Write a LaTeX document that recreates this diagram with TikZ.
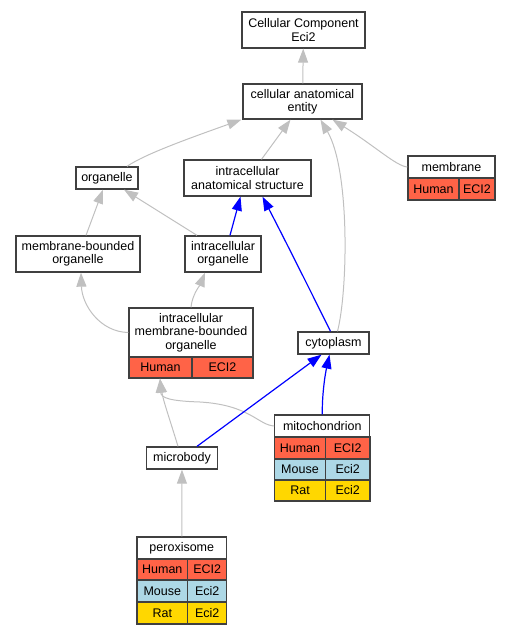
\documentclass[tikz,border=0pt]{standalone}
\usepackage{fontspec}
\setmainfont{Liberation Sans}
\usetikzlibrary{arrows.meta}
\definecolor{tomato}{HTML}{FF6347}
\definecolor{lblue}{HTML}{ADD8E6}
\definecolor{gold}{HTML}{FFD700}
\definecolor{boxline}{HTML}{404040}
\definecolor{edgegray}{HTML}{C0C0C0}
\begin{document}
\begin{tikzpicture}[x=1pt,y=-1pt,
    term/.style={draw=boxline,line width=1.3pt,fill=white,inner sep=0pt,align=center,
      font=\fontsize{12.5}{13.3}\selectfont},
    cell/.style={term,minimum height=#1},
    gedge/.style={draw=edgegray,line width=1pt,-{Triangle[length=14pt,width=10pt]}},
    bedge/.style={draw=blue,line width=1.2pt,-{Triangle[length=14pt,width=10pt]}}]
    \useasboundingbox (0,0) rectangle (512,635);

    % plain terms
    \node[term,minimum width=123pt,minimum height=36pt] (cc) at (303.5,30) {Cellular Component\\Eci2};
    \node[term,minimum width=119pt,minimum height=35pt] (cae) at (302.5,101.5) {cellular anatomical\\entity};
    \node[term,minimum width=62pt,minimum height=22pt] (org) at (107,178) {organelle};
    \node[term,minimum width=127pt,minimum height=36pt] (ias) at (247.5,178) {intracellular\\anatomical structure};
    \node[term,minimum width=124pt,minimum height=36pt] (mbo) at (78,254) {membrane-bounded\\organelle};
    \node[term,minimum width=76pt,minimum height=36pt] (io) at (223,254) {intracellular\\organelle};
    \node[term,minimum width=71pt,minimum height=22pt] (cyt) at (333.5,343) {cytoplasm};
    \node[term,minimum width=71pt,minimum height=22pt] (mb) at (182,458) {microbody};

    % membrane
    \node[cell=22pt,minimum width=87pt] (memh) at (451.5,167) {membrane};
    \node[cell=22pt,minimum width=51pt,fill=tomato] (memhs) at (433.5,189) {Human};
    \node[cell=22pt,minimum width=36pt,fill=tomato] (memhg) at (477,189) {ECI2};

    % intracellular membrane-bounded organelle
    \node[cell=49pt,minimum width=124pt] (imboh) at (191,332.5) {intracellular\\membrane-bounded\\organelle};
    \node[cell=21pt,minimum width=63pt,fill=tomato] (imbohs) at (160.5,367.5) {Human};
    \node[cell=21pt,minimum width=61pt,fill=tomato] (imbohg) at (222.5,367.5) {ECI2};

    % mitochondrion
    \node[cell=22pt,minimum width=95pt] (mitoh) at (322.3,426) {mitochondrion};
    \node[cell=22pt,minimum width=50.6pt,fill=tomato] (mitohs) at (300,448) {Human};
    \node[cell=22pt,minimum width=44.7pt,fill=tomato] (mitohg) at (347.7,448) {ECI2};
    \node[cell=21pt,minimum width=50.6pt,fill=lblue] (mitoms) at (300,469.5) {Mouse};
    \node[cell=21pt,minimum width=44.7pt,fill=lblue] (mitomg) at (347.7,469.5) {Eci2};
    \node[cell=21pt,minimum width=50.6pt,fill=gold] (mitors) at (300,490.5) {Rat};
    \node[cell=21pt,minimum width=44.7pt,fill=gold] (mitorg) at (347.7,490.5) {Eci2};

    % peroxisome
    \node[cell=22pt,minimum width=89.7pt] (peroh) at (181.8,548) {peroxisome};
    \node[cell=21pt,minimum width=50.7pt,fill=tomato] (perohs) at (162.3,569.5) {Human};
    \node[cell=21pt,minimum width=39pt,fill=tomato] (perohg) at (207.2,569.5) {ECI2};
    \node[cell=22pt,minimum width=50.7pt,fill=lblue] (peroms) at (162.3,591) {Mouse};
    \node[cell=22pt,minimum width=39pt,fill=lblue] (peromg) at (207.2,591) {Eci2};
    \node[cell=22pt,minimum width=50.7pt,fill=gold] (perors) at (162.3,613) {Rat};
    \node[cell=22pt,minimum width=39pt,fill=gold] (perorg) at (207.2,613) {Eci2};

    % is_a edges
    \draw[gedge] (cae) -- (cc);
    \draw[gedge] ([xshift=20pt]org.north) .. controls (145,154) and (190,138) .. ([xshift=-1pt]cae.south west);
    \draw[gedge] ([xshift=14pt]ias.north) -- ([xshift=-12pt]cae.south);
    \draw[gedge] (memh.west) .. controls (396,166) and (375,146) .. ([xshift=30pt]cae.south);
    \draw[gedge] ([xshift=4pt]cyt.north) .. controls (348,290) and (350,170) .. ([xshift=18pt]cae.south);
    \draw[gedge] ([xshift=8pt]mbo.north) -- ([xshift=-4pt]org.south);
    \draw[gedge] ([xshift=-26pt]io.north) -- ([xshift=17pt]org.south);
    \draw[gedge] (imboh.west) .. controls (100,332) and (82,305) .. ([xshift=3pt]mbo.south);
    \draw[gedge] (imboh.north) .. controls (192,295) and (200,285) .. ([xshift=-18pt]io.south);
    \draw[gedge] ([xshift=-4pt]mb.north) .. controls (170,420) and (163,400) .. ([xshift=-0.5pt]imbohs.south);
    \draw[gedge] (mitoh.west) .. controls (258,425) and (250,405) .. (200,402)
        .. controls (170,401) and (161,398) .. ([xshift=-0.5pt]imbohs.south);
    \draw[gedge] (peroh) -- (mb);

    % part_of edges
    \draw[bedge] ([xshift=7pt]io.north) -- ([xshift=-7pt]ias.south);
    \draw[bedge] ([xshift=-3pt]cyt.north) .. controls (310,290) and (285,240) .. ([xshift=15pt]ias.south);
    \draw[bedge] ([xshift=15pt]mb.north) -- ([xshift=-12pt]cyt.south);
    \draw[bedge] (mitoh.north) .. controls (322,395) and (325,375) .. ([xshift=-4pt]cyt.south);

  \end{tikzpicture}
\end{document}
